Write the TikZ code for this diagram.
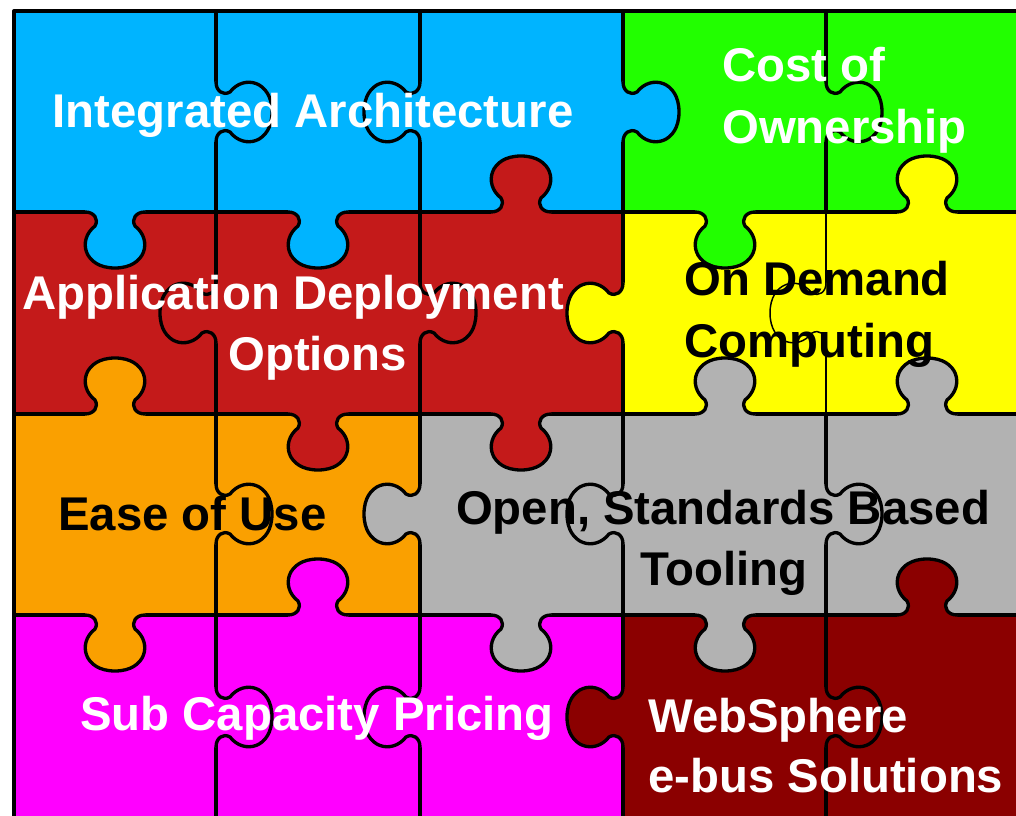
\documentclass[tikz,border=0pt]{standalone}
\usepackage{fontspec}
\setmainfont{Liberation Sans}
\definecolor{pzblue}{HTML}{00B4FF}
\definecolor{pzgreen}{HTML}{22FF00}
\definecolor{pzred}{HTML}{C41A1A}
\definecolor{pzyellow}{HTML}{FFFF00}
\definecolor{pzorange}{HTML}{FAA000}
\definecolor{pzgray}{HTML}{B2B2B2}
\definecolor{pzmagenta}{HTML}{FF00FF}
\definecolor{pzdark}{HTML}{8B0000}
\newcommand\pzknob[5]{%
  \begin{scope}[shift={(#1,#2)},rotate=#3]
    \fill[#4] (-30,-4) -- (-30,0) .. controls (-21,0) and (-16,7) .. (-20,14)
      .. controls (-38,28) and (-31,56) .. (0,56)
      .. controls (31,56) and (38,28) .. (20,14)
      .. controls (16,7) and (21,0) .. (30,0) -- (30,-4) -- cycle;
    \draw[line width=#5] (-30,0) .. controls (-21,0) and (-16,7) .. (-20,14)
      .. controls (-38,28) and (-31,56) .. (0,56)
      .. controls (31,56) and (38,28) .. (20,14)
      .. controls (16,7) and (21,0) .. (30,0);
  \end{scope}}
\begin{document}
\begin{tikzpicture}[x=0.75pt,y=-0.75pt,line join=round,
  edge/.style={line width=2.5pt},
  lbl/.style={inner sep=0pt,font=\fontsize{35.5}{42}\selectfont\bfseries}]
\useasboundingbox (0,0) rectangle (1016,816);
\clip (0,0) rectangle (1016,816);
\fill[white] (0,0) rectangle (1016,816);
% cells
\fill[pzblue] (14,11) rectangle (623,212);
\fill[pzgreen] (623,11) rectangle (1040,212);
\fill[pzred] (14,212) rectangle (623,414);
\fill[pzyellow] (623,212) rectangle (1040,414);
\fill[pzorange] (14,414) rectangle (420,615);
\fill[pzgray] (420,414) rectangle (1040,615);
\fill[pzmagenta] (14,615) rectangle (623,830);
\fill[pzdark] (623,615) rectangle (1040,830);
% grid lines
\draw[edge] (14,830) -- (14,11) -- (1040,11);
\foreach \y in {212,414,615} \draw[edge] (14,\y) -- (1040,\y);
\foreach \x in {216,420,623} \draw[edge] (\x,11) -- (\x,830);
\draw[edge] (826,11) -- (826,212);
\draw[line width=1.1pt] (826,212) -- (826,414);
\draw[edge] (826,414) -- (826,830);
% vertical-edge knobs
\pzknob{216}{112}{90}{pzblue}{2.5pt}
\pzknob{420}{112}{-90}{pzblue}{2.5pt}
\pzknob{623}{112}{90}{pzblue}{2.5pt}
\pzknob{826}{112}{90}{pzgreen}{2.5pt}
\pzknob{216}{313}{-90}{pzred}{2.5pt}
\pzknob{420}{313}{90}{pzred}{2.5pt}
\pzknob{623}{313}{-90}{pzyellow}{2.5pt}
\pzknob{826}{313}{-90}{pzyellow}{1.1pt}
\pzknob{216}{514}{90}{pzorange}{2.5pt}
\pzknob{420}{514}{-90}{pzgray}{2.5pt}
\pzknob{623}{514}{-90}{pzgray}{2.5pt}
\pzknob{826}{514}{90}{pzgray}{2.5pt}
\pzknob{216}{717}{90}{pzmagenta}{2.5pt}
\pzknob{420}{717}{-90}{pzmagenta}{2.5pt}
\pzknob{623}{717}{-90}{pzdark}{2.5pt}
\pzknob{826}{717}{90}{pzdark}{2.5pt}
% horizontal-edge knobs
\pzknob{115}{212}{0}{pzblue}{2.5pt}
\pzknob{318}{212}{0}{pzblue}{2.5pt}
\pzknob{521}{212}{180}{pzred}{2.5pt}
\pzknob{725}{212}{0}{pzgreen}{2.5pt}
\pzknob{927}{212}{180}{pzyellow}{2.5pt}
\pzknob{115}{414}{180}{pzorange}{2.5pt}
\pzknob{318}{414}{0}{pzred}{2.5pt}
\pzknob{521}{414}{0}{pzred}{2.5pt}
\pzknob{725}{414}{180}{pzgray}{2.5pt}
\pzknob{927}{414}{180}{pzgray}{2.5pt}
\pzknob{115}{615}{0}{pzorange}{2.5pt}
\pzknob{318}{615}{180}{pzmagenta}{2.5pt}
\pzknob{521}{615}{0}{pzgray}{2.5pt}
\pzknob{725}{615}{0}{pzgray}{2.5pt}
\pzknob{927}{615}{180}{pzdark}{2.5pt}
% labels
\node[lbl,white,anchor=base] (t1) at (313,128) {Integrated Architecture};
\node[lbl,white,anchor=base west] (t2a) at (722,82) {Cost of};
\node[lbl,white,anchor=base west] (t2b) at (722,144) {Ownership};
\node[lbl,white,anchor=base west] (t3a) at (22,310) {Application Deployment};
\node[lbl,white,anchor=base west] (t3b) at (228,370) {Options};
\node[lbl,black,anchor=base west] (t4a) at (684,296) {On Demand};
\node[lbl,black,anchor=base west] (t4b) at (684,357) {Computing};
\node[lbl,black,anchor=base west] (t5) at (58,530) {Ease of Use};
\node[lbl,black,anchor=base] (t6a) at (723,524) {Open, Standards Based};
\node[lbl,black,anchor=base] (t6b) at (724,585) {Tooling};
\node[lbl,white,anchor=base west] (t7) at (80,730) {Sub Capacity Pricing};
\node[lbl,white,anchor=base west] (t8a) at (648,732) {WebSphere};
\node[lbl,white,anchor=base west] (t8b) at (648,792) {e-bus Solutions};
\end{tikzpicture}
\end{document}
